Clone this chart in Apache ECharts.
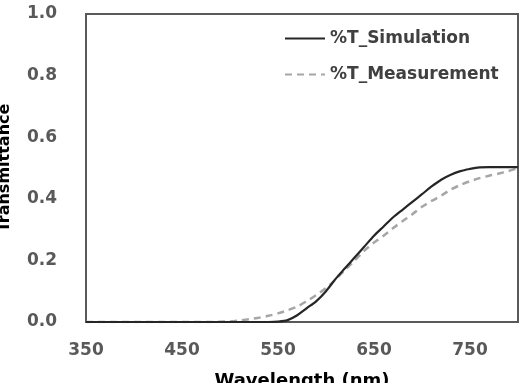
<!DOCTYPE html>
<html>
<head>
<meta charset="utf-8">
<script src="https://cdn.jsdelivr.net/npm/echarts@6/dist/echarts.min.js"></script>
<style>
  html, body { margin: 0; padding: 0; background: #fff; }
  #main { width: 529px; height: 383px; }
</style>
</head>
<body>
<div id="main"></div>
<script>
// wavelength grid, 10 nm steps
var wavelength = [350, 360, 370, 380, 390, 400, 410, 420, 430, 440, 450, 460, 470, 480, 490,
  500, 510, 520, 530, 540, 550, 560, 570, 580, 590, 600, 610, 620, 630, 640, 650, 660, 670,
  680, 690, 700, 710, 720, 730, 740, 750, 760, 770, 780, 790, 800];
var simulation = [0, 0, 0, 0, 0, 0, 0, 0, 0, 0, 0, 0, 0, 0, 0,
  0, 0, 0, 0, 0, 0.001, 0.006, 0.022, 0.045, 0.068, 0.10, 0.14, 0.175, 0.21, 0.245, 0.28, 0.31, 0.34,
  0.365, 0.39, 0.415, 0.44, 0.462, 0.478, 0.49, 0.497, 0.502, 0.503, 0.503, 0.503, 0.503];
var measurement = [0, 0, 0, 0, 0, 0, 0, 0, 0, 0, 0, 0, 0, 0, 0.001,
  0.002, 0.005, 0.009, 0.014, 0.02, 0.028, 0.038, 0.05, 0.068, 0.088, 0.11, 0.138, 0.17, 0.2, 0.232, 0.258, 0.28, 0.305,
  0.328, 0.35, 0.374, 0.393, 0.41, 0.43, 0.445, 0.457, 0.467, 0.475, 0.482, 0.49, 0.50];
var seriesNames = ['%T_Simulation', '%T_Measurement'];

function pairs(ys) {
  return wavelength.map(function (x, i) { return [x, ys[i]]; });
}

var chart = echarts.init(document.getElementById('main'), null, { renderer: 'canvas' });
var font = '"DejaVu Sans", "Noto Sans", sans-serif';

var option = {
  animation: false,
  backgroundColor: '#fff',
  textStyle: { fontFamily: font },
  grid: {
    left: 86, right: 11, top: 14, bottom: 61,
    outerBoundsMode: 'none',
    containLabel: false,
    show: true, borderColor: '#595959', borderWidth: 2
  },
  legend: {
    orient: 'vertical',
    left: 279, top: 25,
    itemWidth: 40, itemHeight: 20, itemGap: 19,
    data: seriesNames,
    itemStyle: { opacity: 0 },
    textStyle: { fontSize: 17, fontWeight: 'bold', color: '#404040', fontFamily: font }
  },
  xAxis: {
    type: 'value',
    min: 350, max: 800, interval: 100,
    name: 'Wavelength (nm)',
    nameLocation: 'middle',
    nameGap: 50,
    nameTextStyle: { fontSize: 18, fontWeight: 'bold', color: '#000', verticalAlign: 'top' },
    axisLine: { show: true, lineStyle: { color: '#595959', width: 2 } },
    axisTick: { show: false },
    splitLine: { show: false },
    axisLabel: {
      margin: 20, fontSize: 17, fontWeight: 'bold', color: '#595959',
      formatter: function (v) { return v === 800 ? '' : String(v); }
    }
  },
  yAxis: {
    type: 'value',
    min: 0, max: 1, interval: 0.2,
    name: 'Transmittance',
    nameLocation: 'middle',
    nameGap: 73,
    nameTextStyle: { fontSize: 16, fontWeight: 'bold', color: '#000' },
    axisLine: { show: true, lineStyle: { color: '#595959', width: 2 } },
    axisTick: { show: false },
    splitLine: { show: false },
    axisLabel: {
      margin: 29, fontSize: 17, fontWeight: 'bold', color: '#595959',
      formatter: function (v) { return v.toFixed(1); }
    }
  },
  series: [
    {
      name: seriesNames[0],
      type: 'line',
      data: pairs(simulation),
      smooth: 0.3,
      showSymbol: false, symbol: 'none', symbolSize: 0,
      itemStyle: { color: '#262626' },
      lineStyle: { color: '#262626', width: 2.2 },
      z: 3
    },
    {
      name: seriesNames[1],
      type: 'line',
      data: pairs(measurement),
      smooth: 0.3,
      showSymbol: false, symbol: 'none', symbolSize: 0,
      itemStyle: { color: '#a6a6a6' },
      lineStyle: { color: '#a6a6a6', width: 2.5, type: [7, 5] },
      z: 2
    }
  ]
};

chart.setOption(option);
</script>
</body>
</html>
